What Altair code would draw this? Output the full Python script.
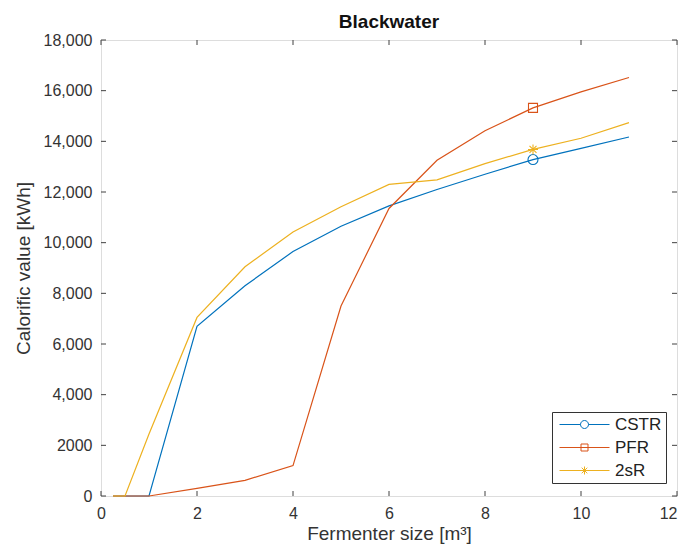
import altair as alt
import pandas as pd

# ---- data ----
sizes = [0.25, 0.5, 1, 2, 3, 4, 5, 6, 7, 8, 9, 10, 11]
cstr = [0, 0, 0, 6700, 8300, 9650, 10650, 11450, 12100, 12700, 13280, 13720, 14170]
pfr = [0, 0, 0, 300, 620, 1200, 7500, 11350, 13250, 14420, 15320, 15950, 16520]
two_sr = [0, 0, 2450, 7050, 9050, 10420, 11420, 12300, 12480, 13120, 13680, 14120, 14740]
series = ["CSTR", "PFR", "2sR"]
colors = ["#0072BD", "#D95319", "#EDB120"]
marker_at = 9
x_ticks = [0, 2, 4, 6, 8, 10, 12]
y_ticks = [0, 2000, 4000, 6000, 8000, 10000, 12000, 14000, 16000, 18000]

rows = []
for name, vals in zip(series, [cstr, pfr, two_sr]):
    for xv, yv in zip(sizes, vals):
        rows.append({"x": xv, "y": yv, "series": name})
df = pd.DataFrame(rows)
df_mark = df[df["x"] == marker_at]
df_xt = pd.DataFrame({"x": x_ticks})
df_yt = pd.DataFrame({"y": y_ticks})

FONT = "Liberation Sans"
AX = "#404040"

circle_m = "M-1,0A1,1 0 1,1 1,0A1,1 0 1,1 -1,0Z"
square_m = "M-0.9,-0.9L0.9,-0.9L0.9,0.9L-0.9,0.9Z"
star_m = "M-1,0L1,0M0,-1L0,1M-0.7,-0.7L0.7,0.7M-0.7,0.7L0.7,-0.7"

leg_circle = "M-5,0L-0.8,0M0.8,0L5,0M-0.8,0A0.8,0.8 0 1,1 0.8,0A0.8,0.8 0 1,1 -0.8,0Z"
leg_square = "M-5,0L5,0M-0.7,-0.7L0.7,-0.7L0.7,0.7L-0.7,0.7Z"
leg_star = "M-5,0L5,0M-0.8,0L0.8,0M0,-0.8L0,0.8M-0.56,-0.56L0.56,0.56M-0.56,0.56L0.56,-0.56"

xscale = alt.Scale(domain=[0, 12], nice=False, zero=False)
yscale = alt.Scale(domain=[0, 18000], nice=False)

x_axis = alt.Axis(
    values=x_ticks, grid=False, ticks=False, domain=False,
    labelFont=FONT, labelFontSize=16, labelColor="#333", labelPadding=9,
    labelAlign={"condition": {"test": "datum.value == 12", "value": "right"}, "value": "center"},
    title="Fermenter size [m³]", titleFont=FONT, titleFontSize=19,
    titleFontWeight="normal", titleColor="#333", titlePadding=3,
)
y_axis = alt.Axis(
    values=y_ticks, grid=False, ticks=False, domain=False,
    labelFont=FONT, labelFontSize=16, labelColor="#333", labelPadding=9,
    labelExpr="datum.value == 2000 ? '2000' : format(datum.value, ',')",
    title="Calorific value [kWh]", titleFont=FONT, titleFontSize=19,
    titleFontWeight="normal", titleColor="#333", titlePadding=10,
)

X = lambda: alt.X("x:Q", scale=xscale, axis=x_axis)
Y = lambda: alt.Y("y:Q", scale=yscale, axis=y_axis)

legend = alt.Legend(
    title=None, orient="none", legendX=451, legendY=372,
    symbolSize=100, symbolStrokeWidth=1, symbolOffset=20, labelOffset=22,
    symbolOpacity=1, symbolFillColor="transparent",
    labelFont=FONT, labelFontSize=17, labelColor="#222",
    strokeColor="#333", fillColor="white", padding=4, rowPadding=5,
)

cscale = alt.Scale(domain=series, range=colors)

lines = alt.Chart(df).mark_line(strokeWidth=1.2).encode(
    x=X(), y=Y(),
    color=alt.Color("series:N", scale=cscale, legend=None),
    detail="series:N",
)

points = alt.Chart(df_mark).mark_point(filled=False, size=100, strokeWidth=1.1, opacity=1).encode(
    x=X(), y=Y(),
    color=alt.Color("series:N", scale=cscale, legend=None),
    shape=alt.Shape("series:N", scale=alt.Scale(domain=series, range=[circle_m, square_m, star_m]), legend=None),
)

legend_layer = alt.Chart(df_mark).mark_point(filled=False, size=100, strokeWidth=1, opacity=0).encode(
    x=X(), y=Y(),
    color=alt.Color("series:N", scale=cscale, legend=legend),
    shape=alt.Shape("series:N", scale=alt.Scale(domain=series, range=[leg_circle, leg_square, leg_star]), legend=legend),
)

tb = alt.Chart(df_xt).mark_rule(color=AX).encode(x=X(), y=alt.value(456), y2=alt.value(451))
tt = alt.Chart(df_xt).mark_rule(color=AX).encode(x=X(), y=alt.value(0), y2=alt.value(5))
tl = alt.Chart(df_yt).mark_rule(color=AX).encode(y=Y(), x=alt.value(0), x2=alt.value(5))
tr = alt.Chart(df_yt).mark_rule(color=AX).encode(y=Y(), x=alt.value(576), x2=alt.value(571))

chart = alt.layer(lines, points, legend_layer, tb, tt, tl, tr).resolve_scale(
    shape="independent", color="independent"
).properties(
    width=576, height=456,
    title=alt.TitleParams("Blackwater", font=FONT, fontSize=19, fontWeight="bold",
                          color="#111", anchor="middle", offset=0),
    autosize=alt.AutoSizeParams(type="none"),
    padding={"left": 93, "top": 32, "right": 3, "bottom": 48},
).configure_view(stroke=AX, strokeWidth=1).configure(background="white")

chart.save("out.html", embed_options={"renderer": "svg", "actions": False})
